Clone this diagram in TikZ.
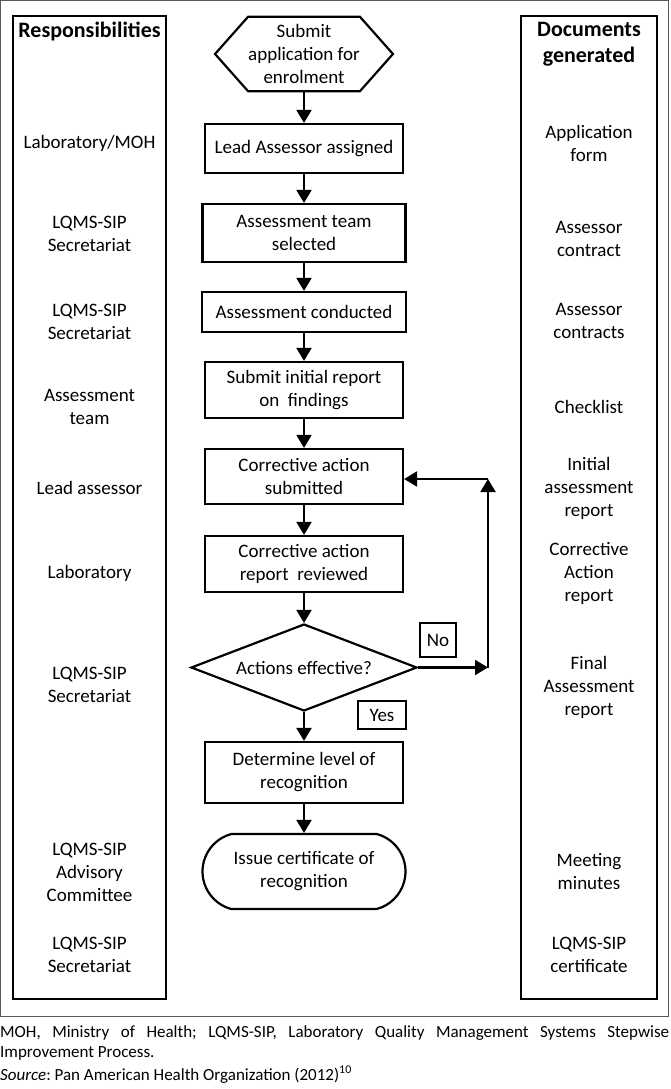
\documentclass[tikz,border=0pt]{standalone}
\usepackage{fontspec}
\setmainfont{Carlito}
\frenchspacing
\usetikzlibrary{shapes.geometric,shapes.misc,arrows.meta}
\newcommand\fsz{\fontsize{19}{23}\selectfont}
\newcommand\hsz{\fontsize{22}{26}\selectfont}
\newcommand\capsz{\fontsize{17}{20}\selectfont}
\tikzset{
  proc/.style={draw, line width=2.2pt, align=center, inner sep=0pt, font=\fsz},
  colbox/.style={draw, line width=2.2pt, inner sep=0pt, minimum height=983pt},
  lbl/.style={align=center, inner sep=0pt, font=\fsz},
  head/.style={align=center, inner sep=0pt, font=\hsz\bfseries},
  tag/.style={draw, line width=2pt, inner sep=0pt, font=\fsz},
  arr/.style={line width=2.2pt, -{Triangle[length=13pt,width=15pt]}},
}
\begin{document}
\begin{tikzpicture}[x=1pt,y=-1pt]
\useasboundingbox (0,0) rectangle (670,1089);
\draw[black!65, line width=1pt] (0.5,0.5) rectangle (668.5,1016);

% columns
\node[colbox, minimum width=153pt] (lcol) at (89.5,507.5) {};
\node[colbox, minimum width=136pt] (rcol) at (589,507.5) {};
\node[head] (lh) at (89.5,31) {Responsibilities};
\node[head] (rh) at (589,44) {Documents\\generated};

% left labels
\node[lbl] (l1) at (89.5,143) {Laboratory/MOH};
\node[lbl] (l2) at (89.5,233.5) {LQMS-SIP\\Secretariat};
\node[lbl] (l3) at (89.5,322) {LQMS-SIP\\Secretariat};
\node[lbl] (l4) at (89.5,407) {Assessment\\team};
\node[lbl] (l5) at (89.5,488) {Lead assessor};
\node[lbl] (l6) at (89.5,573) {Laboratory};
\node[lbl] (l7) at (89.5,685) {LQMS-SIP\\Secretariat};
\node[lbl] (l8) at (89.5,872) {LQMS-SIP\\Advisory\\Committee};
\node[lbl] (l9) at (89.5,955) {LQMS-SIP\\Secretariat};

% right labels
\node[lbl] (r1) at (589,143) {Application\\form};
\node[lbl] (r2) at (589,238.5) {Assessor\\contract};
\node[lbl] (r3) at (589,321) {Assessor\\contracts};
\node[lbl] (r4) at (589,407) {Checklist};
\node[lbl] (r5) at (589,488) {Initial\\assessment\\report};
\node[lbl] (r6) at (589,573) {Corrective\\Action\\report};
\node[lbl] (r7) at (589,687) {Final\\Assessment\\report};
\node[lbl] (r8) at (589,871.5) {Meeting\\minutes};
\node[lbl] (r9) at (589,955) {LQMS-SIP\\certificate};

% flow
\node[lbl, minimum width=94pt, minimum height=74pt] (hex) at (304,54) {Submit\\application for\\enrolment};
\draw[line width=2.2pt, line join=miter] (hex.north west) -- (hex.north east) -- ([xshift=33pt]hex.east) -- (hex.south east) -- (hex.south west) -- ([xshift=-33pt]hex.west) -- cycle;
\node[proc, minimum width=198pt, minimum height=49pt] (lead) at (304,148.5) {Lead Assessor assigned};
\node[proc, minimum width=203pt, minimum height=58pt] (team) at (304,233) {Assessment team\\selected};
\node[proc, minimum width=204pt, minimum height=40pt] (cond) at (304,312) {Assessment conducted};
\node[proc, minimum width=198pt, minimum height=56pt] (init) at (304,390) {Submit initial report\\on~ findings};
\node[proc, minimum width=198pt, minimum height=55pt] (cas) at (304,476.5) {Corrective action\\submitted};
\node[proc, minimum width=198pt, minimum height=56pt] (carr) at (304,564) {Corrective action\\report~ reviewed};
\node[proc, shape=diamond, shape aspect=2.6, minimum width=226pt, minimum height=87pt] (dec) at (304,667.5) {Actions effective?};
\node[proc, minimum width=198pt, minimum height=61pt] (det) at (304,772.5) {Determine level of\\recognition};
\node[proc, shape=rounded rectangle, rounded rectangle arc length=150, minimum width=203pt, minimum height=75pt] (iss) at (304,871.5) {Issue certificate of\\recognition};

\node[tag, minimum width=36pt, minimum height=34pt] (no) at (438,640) {No};
\node[tag, minimum width=48pt, minimum height=28pt] (yes) at (382,715) {Yes};

\draw[arr] (hex.south) -- (lead.north);
\draw[arr] (lead.south) -- (team.north);
\draw[arr] (team.south) -- (cond.north);
\draw[arr] (cond.south) -- (init.north);
\draw[arr] (init.south) -- (cas.north);
\draw[arr] (cas.south) -- (carr.north);
\draw[arr] (carr.south) -- (dec.north);
\draw[arr] (dec.south) -- (det.north);
\draw[arr] (det.south) -- (iss.north);
\coordinate (lp) at (488,667.5);
\coordinate (corner) at (488,479);
\draw[arr] (dec.east) -- (lp);
\draw[arr] (lp) -- (corner);
\draw[arr] (corner) -- (corner -| cas.east);

% caption
\node[anchor=north west, inner sep=0pt, text width=669pt, align=justify, font=\capsz] (cap) at (0,1025) {MOH, Ministry of Health; LQMS-SIP, Laboratory Quality Management Systems Stepwise\linebreak Improvement Process.\par\vspace{3pt}\textit{Source}: Pan American Health Organization (2012)\textsuperscript{10}};
\end{tikzpicture}
\end{document}
